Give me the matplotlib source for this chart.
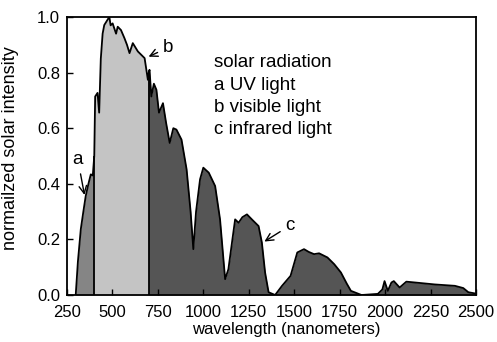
import numpy as np
import matplotlib.pyplot as plt

plt.rcParams['font.family'] = ['Liberation Sans', 'DejaVu Sans']

# wavelength (nm) and normalized intensity
wl = [298, 310, 326, 340, 353, 368, 381, 392, 400, 405, 418, 427, 436, 446, 455, 473, 483,
      490, 501, 520, 529, 547, 566, 580, 594, 612, 640, 677, 695, 700, 704, 714, 728, 742,
      756, 778, 795, 815, 835, 852, 880, 908, 930, 945, 960, 982, 1000, 1030, 1065, 1092,
      1120, 1138, 1160, 1175, 1194, 1215, 1240, 1270, 1304, 1322, 1340, 1359, 1395, 1433,
      1480, 1517, 1554, 1580, 1609, 1637, 1683, 1720, 1757, 1790, 1812, 1870, 1960, 1985,
      1997, 2015, 2035, 2048, 2080, 2117, 2180, 2273, 2384, 2430, 2458, 2500]
intensity = [0.0, 0.12, 0.237, 0.30, 0.356, 0.40, 0.434, 0.43, 0.50, 0.714, 0.727, 0.656,
             0.85, 0.94, 0.971, 0.99, 1.0, 0.97, 0.977, 0.94, 0.965, 0.953, 0.924, 0.90,
             0.87, 0.906, 0.876, 0.852, 0.774, 0.80, 0.81, 0.714, 0.76, 0.738, 0.656, 0.69,
             0.62, 0.547, 0.60, 0.595, 0.559, 0.452, 0.30, 0.165, 0.30, 0.416, 0.458, 0.44,
             0.392, 0.272, 0.057, 0.093, 0.20, 0.272, 0.26, 0.28, 0.29, 0.27, 0.248, 0.189,
             0.08, 0.01, 0.0, 0.033, 0.069, 0.153, 0.165, 0.155, 0.147, 0.15, 0.135, 0.111,
             0.081, 0.04, 0.015, 0.0, 0.004, 0.02, 0.05, 0.015, 0.045, 0.05, 0.027, 0.048,
             0.044, 0.038, 0.033, 0.025, 0.01, 0.005]

uv_edge = 400
vis_edge = 700
legend_lines = ['solar radiation', 'a UV light', 'b visible light', 'c infrared light']

wl = np.array(wl, dtype=float)
intensity = np.array(intensity)

fig = plt.figure(figsize=(4.97, 3.42), dpi=100)
ax = fig.add_axes([0.1348, 0.1374, 0.8229, 0.8129])

ax.fill_between(wl, intensity, where=wl <= uv_edge, color='#858585', interpolate=True, lw=0)
ax.fill_between(wl, intensity, where=(wl >= uv_edge) & (wl <= vis_edge), color='#c4c4c4',
                interpolate=True, lw=0)
ax.fill_between(wl, intensity, where=wl >= vis_edge, color='#555555', interpolate=True, lw=0)
ax.plot(wl, intensity, color='black', lw=1.3)
for edge in (uv_edge, vis_edge):
    ax.vlines(edge, 0, np.interp(edge, wl, intensity), color='black', lw=1.3)

ax.set_xlim(250, 2500)
ax.set_ylim(0, 1.0)
ax.set_xticks(np.arange(250, 2501, 250))
ax.set_yticks(np.arange(0, 1.01, 0.2))
ax.set_yticklabels([f'{v:.1f}' for v in np.arange(0, 1.01, 0.2)])
ax.tick_params(direction='in', labelsize=12, length=4, width=1)
ax.tick_params(axis='x', pad=7)
ax.tick_params(axis='y', pad=5)
for s in ax.spines.values():
    s.set_linewidth(1.3)
ax.set_xlabel('wavelength (nanometers)', fontsize=12)
ax.xaxis.set_label_coords(0.537, -0.097)
ax.set_ylabel('normailzed solar intensity', fontsize=13)
ax.yaxis.set_label_coords(-0.117, 0.529)

for i, line in enumerate(legend_lines):
    ax.text(1059, 0.835 - i * 0.08, line, fontsize=13.5, va='center')

arrow = dict(arrowstyle='->', color='black', lw=1)
ax.annotate('a', xy=(349, 0.35), xytext=(310, 0.486), fontsize=13.5, ha='center', va='center',
            arrowprops=arrow)
ax.annotate('b', xy=(685, 0.853), xytext=(806, 0.89), fontsize=13.5, ha='center', va='center',
            arrowprops=arrow)
ax.annotate('c', xy=(1323, 0.187), xytext=(1477, 0.25), fontsize=13.5, ha='center', va='center',
            arrowprops=arrow)

fig.savefig('out.png', dpi=100)
